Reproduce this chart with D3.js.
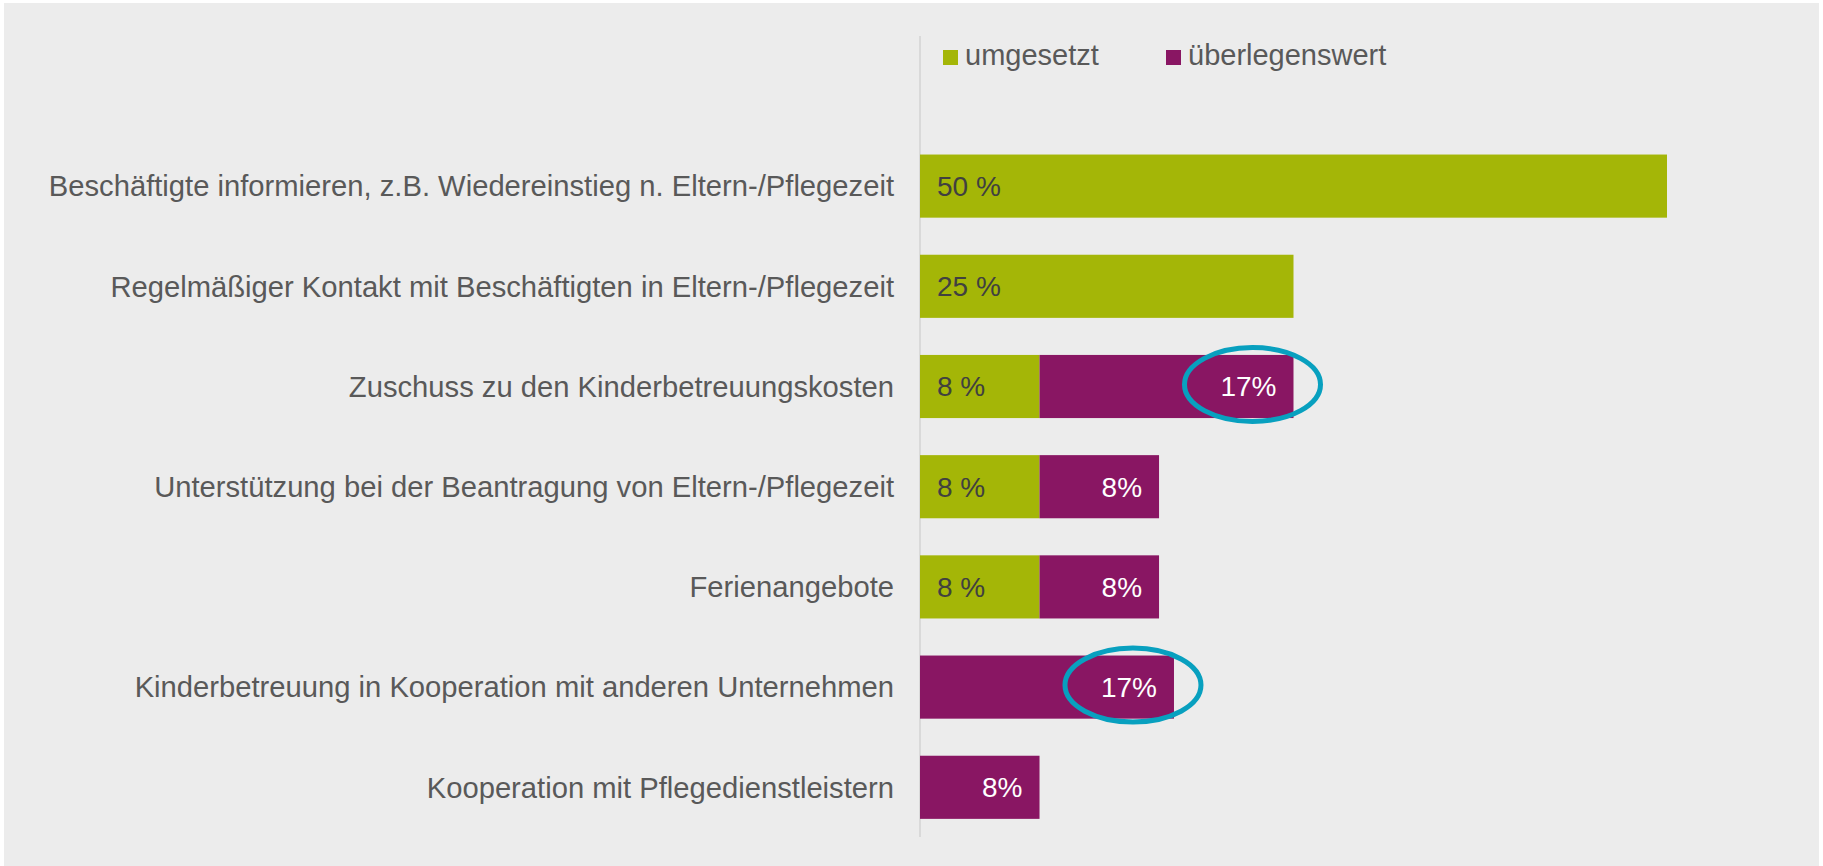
<!DOCTYPE html>
<html><head><meta charset="utf-8">
<script src="https://cdn.jsdelivr.net/npm/d3@7"></script>
<style>html,body{margin:0;padding:0;background:#fff;}svg{display:block;}</style>
</head><body><svg id="c" width="1823" height="866"></svg>
<script>
const categories = [
  "Beschäftigte informieren, z.B. Wiedereinstieg n. Eltern-/Pflegezeit",
  "Regelmäßiger Kontakt mit Beschäftigten in Eltern-/Pflegezeit",
  "Zuschuss zu den Kinderbetreuungskosten",
  "Unterstützung bei der Beantragung von Eltern-/Pflegezeit",
  "Ferienangebote",
  "Kinderbetreuung in Kooperation mit anderen Unternehmen",
  "Kooperation mit Pflegedienstleistern"
];
const umgesetzt = [50, 25, 8, 8, 8, 0, 0];
const ueberlegenswert = [0, 0, 17, 8, 8, 17, 8];
const seriesNames = ["umgesetzt", "überlegenswert"];
const highlighted = [
  "Zuschuss zu den Kinderbetreuungskosten",
  "Kinderbetreuung in Kooperation mit anderen Unternehmen"
];

const colors = {umgesetzt: "#a4b607", ueberlegenswert: "#891663"};
const font = "'Liberation Sans', Arial, sans-serif";
const svg = d3.select("#c");

svg.append("rect").attr("x", 4).attr("y", 3).attr("width", 1815).attr("height", 863).attr("fill", "#ececec");

const x = d3.scaleLinear().domain([0, 50]).range([920, 1667]);
const y = d3.scaleBand().domain(categories).range([136, 837.4]).paddingInner(0.37).paddingOuter(0.185);

const rows = categories.map((c, i) => ({c, a: umgesetzt[i], b: ueberlegenswert[i]}));

// axis line
svg.append("line").attr("x1", x(0)).attr("x2", x(0)).attr("y1", 36).attr("y2", 837)
  .attr("stroke", "#d9d9d9").attr("stroke-width", 2);

// category labels
svg.append("g").selectAll("text").data(rows).join("text")
  .attr("x", x(0) - 26).attr("y", d => y(d.c) + y.bandwidth() / 2).attr("dy", "0.35em")
  .attr("text-anchor", "end").attr("font-family", font).attr("font-size", 29.2).attr("fill", "#595959")
  .text(d => d.c);

// green bars
svg.append("g").selectAll("rect").data(rows.filter(d => d.a > 0)).join("rect")
  .attr("x", x(0)).attr("y", d => y(d.c)).attr("width", d => x(d.a) - x(0)).attr("height", y.bandwidth())
  .attr("fill", colors.umgesetzt);

// purple bars
svg.append("g").selectAll("rect").data(rows.filter(d => d.b > 0)).join("rect")
  .attr("x", d => x(d.a)).attr("y", d => y(d.c)).attr("width", d => x(d.a + d.b) - x(d.a)).attr("height", y.bandwidth())
  .attr("fill", colors.ueberlegenswert);

// green labels
svg.append("g").selectAll("text").data(rows.filter(d => d.a > 0)).join("text")
  .attr("x", x(0) + 17).attr("y", d => y(d.c) + y.bandwidth() / 2).attr("dy", "0.35em")
  .attr("font-family", font).attr("font-size", 28).attr("fill", "#404040")
  .text(d => d.a + " %");

// purple labels
svg.append("g").selectAll("text").data(rows.filter(d => d.b > 0)).join("text")
  .attr("x", d => x(d.a + d.b) - 17).attr("y", d => y(d.c) + y.bandwidth() / 2).attr("dy", "0.35em")
  .attr("text-anchor", "end").attr("font-family", font).attr("font-size", 28).attr("fill", "#ffffff")
  .text(d => d.b + "%");

// highlight ellipses
svg.append("g").selectAll("ellipse").data(rows.filter(d => highlighted.includes(d.c))).join("ellipse")
  .attr("cx", d => x(d.a + d.b) - 41).attr("cy", d => y(d.c) + y.bandwidth() / 2 - 2)
  .attr("rx", 68).attr("ry", 37)
  .attr("fill", "none").attr("stroke", "#08a0bf").attr("stroke-width", 5);

// legend
const legX = [943, 1166];
const leg = svg.append("g").selectAll("g").data(seriesNames).join("g")
  .attr("transform", (d, i) => `translate(${legX[i]},50)`);
leg.append("rect").attr("width", 15).attr("height", 15)
  .attr("fill", (d, i) => i === 0 ? colors.umgesetzt : colors.ueberlegenswert);
leg.append("text").attr("x", 22).attr("y", 15).attr("font-family", font).attr("font-size", 29)
  .attr("fill", "#595959").text(d => d);
</script></body></html>
